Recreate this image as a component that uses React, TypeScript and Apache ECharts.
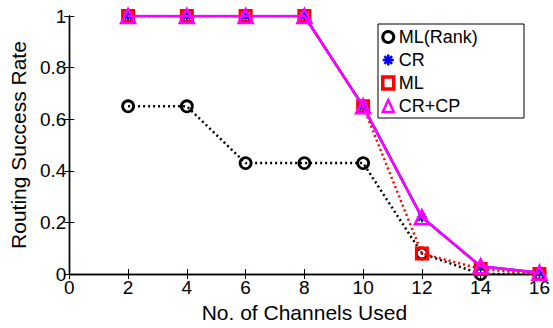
import React, { useEffect, useRef } from "react";
import * as echarts from "echarts";

const channels = [2, 4, 6, 8, 10, 12, 14, 16];
const mlRank = [0.65, 0.65, 0.43, 0.43, 0.43, 0.08, 0.0, 0.0];
const cr = [1, 1, 1, 1, 0.65, 0.22, 0.03, 0.005];
const ml = [1, 1, 1, 1, 0.65, 0.08, 0.02, 0.0];
const crcp = [1, 1, 1, 1, 0.65, 0.22, 0.03, 0.005];
const seriesNames = ["ML(Rank)", "CR", "ML", "CR+CP"];
const xTicks = [0, 2, 4, 6, 8, 10, 12, 14, 16];
const yTicks = [0, 0.2, 0.4, 0.6, 0.8, 1];

const FONT = "Liberation Sans";
const ASTERISK = "path://M5,0L5,10M0,5L10,5M1.5,1.5L8.5,8.5M8.5,1.5L1.5,8.5";

const pairs = (ys: number[]) => channels.map((x, i) => [x, ys[i]]);

export default function App() {
  const ref = useRef<HTMLDivElement>(null);
  useEffect(() => {
    if (!ref.current) return;
    const chart = echarts.init(ref.current, undefined, { renderer: "svg" });
    const axisLine = { show: true, lineStyle: { color: "#000", width: 1.4 } };
    const tickInside = { show: true, inside: true, length: 5, lineStyle: { color: "#000", width: 1 } };
    const labelStyle = { color: "#000", fontSize: 19, fontFamily: FONT };
    chart.setOption({
      animation: false,
      backgroundColor: "#fff",
      grid: { left: 65, top: 16, right: 12, bottom: 48, containLabel: false },
      xAxis: [
        {
          type: "value",
          position: "bottom",
          min: xTicks[0],
          max: xTicks[xTicks.length - 1],
          interval: 2,
          axisLine,
          axisTick: tickInside,
          axisLabel: { ...labelStyle, margin: 4 },
          splitLine: { show: false },
          name: "No. of Channels Used",
          nameLocation: "middle",
          nameGap: 20,
          nameTextStyle: { color: "#000", fontSize: 21, fontFamily: FONT },
        },
        {
          type: "value",
          position: "top",
          min: xTicks[0],
          max: xTicks[xTicks.length - 1],
          interval: 2,
          axisLine,
          axisTick: tickInside,
          axisLabel: { show: false },
          splitLine: { show: false },
        },
      ],
      yAxis: [
        {
          type: "value",
          position: "left",
          min: yTicks[0],
          max: yTicks[yTicks.length - 1],
          interval: 0.2,
          axisLine,
          axisTick: tickInside,
          axisLabel: { ...labelStyle, margin: 3 },
          splitLine: { show: false },
          name: "Routing Success Rate",
          nameLocation: "middle",
          nameGap: 36,
          nameTextStyle: { color: "#000", fontSize: 21, fontFamily: FONT },
        },
        {
          type: "value",
          position: "right",
          min: yTicks[0],
          max: yTicks[yTicks.length - 1],
          interval: 0.2,
          axisLine,
          axisTick: tickInside,
          axisLabel: { show: false },
          splitLine: { show: false },
        },
      ],
      graphic: [
        {
          type: "rect",
          z: 5,
          shape: { x: 378, y: 24, width: 146, height: 94 },
          style: { fill: "#fff", stroke: "#000", lineWidth: 1 },
        },
      ],
      legend: {
        orient: "vertical",
        left: 377,
        top: 24,
        padding: [4, 4, 4, 4],
        itemGap: 5,
        itemWidth: 11,
        itemHeight: 12,
        z: 10,
        textStyle: { color: "#000", fontSize: 18, fontFamily: FONT },
        data: [
          { name: seriesNames[0], icon: "circle", itemStyle: { color: "#fff", borderColor: "#000", borderWidth: 3 } },
          { name: seriesNames[1], icon: ASTERISK, itemStyle: { color: "#00f", borderColor: "#00f", borderWidth: 2.5 } },
          { name: seriesNames[2], icon: "rect", itemStyle: { color: "#fff", borderColor: "#f00", borderWidth: 3.5 } },
          { name: seriesNames[3], icon: "triangle", itemStyle: { color: "#fff", borderColor: "#f0f", borderWidth: 2.5 } },
        ],
      },
      series: [
        {
          name: seriesNames[0],
          type: "line",
          data: pairs(mlRank),
          symbol: "circle",
          symbolSize: 11,
          itemStyle: { color: "rgba(255,255,255,0)", borderColor: "#000", borderWidth: 2.8 },
          lineStyle: { color: "#000", width: 2.5, type: [2, 3] },
          z: 2,
        },
        {
          name: seriesNames[1],
          type: "line",
          data: pairs(cr),
          symbol: ASTERISK,
          symbolSize: 10,
          itemStyle: { color: "#00f", borderColor: "#00f", borderWidth: 2 },
          lineStyle: { color: "#00f", width: 2.5 },
          z: 3,
        },
        {
          name: seriesNames[2],
          type: "line",
          data: pairs(ml),
          symbol: "rect",
          symbolSize: 11,
          itemStyle: { color: "rgba(255,255,255,0)", borderColor: "#f00", borderWidth: 3 },
          lineStyle: { color: "#f00", width: 2.5, type: [2, 3] },
          z: 4,
        },
        {
          name: seriesNames[3],
          type: "line",
          data: pairs(crcp),
          symbol: "triangle",
          symbolSize: 14,
          itemStyle: { color: "rgba(255,255,255,0)", borderColor: "#f0f", borderWidth: 2.5 },
          lineStyle: { color: "#f0f", width: 2.5 },
          z: 5,
        },
      ],
    });
    return () => chart.dispose();
  }, []);
  return (
    <div
      ref={ref}
      style={{ position: "fixed", left: 0, top: 0, width: 553, height: 328 }}
    />
  );
}
